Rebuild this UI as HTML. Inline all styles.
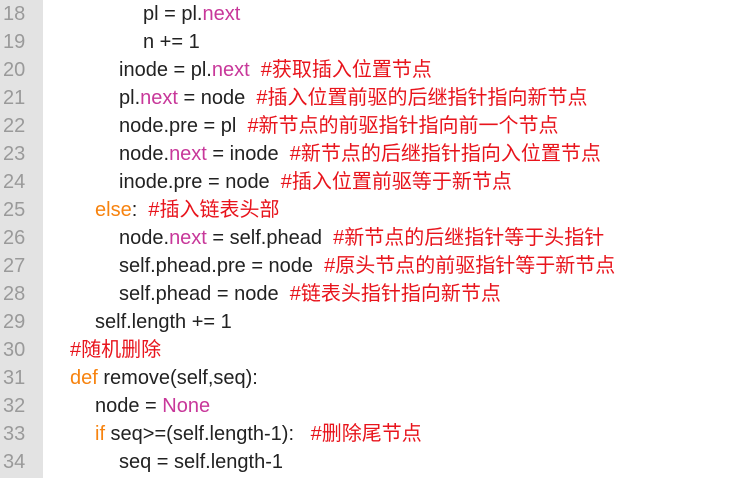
<!DOCTYPE html>
<html><head><meta charset="utf-8"><style>
body{margin:0;width:743px;height:478px;background:#fff;overflow:hidden;position:relative;font-family:"Liberation Sans","Noto Sans CJK SC",sans-serif;font-size:20px;color:#222}
.g{position:absolute;left:0;top:0;width:43px;height:478px;background:#e3e3e3}
.l{position:absolute;height:28px;line-height:28px;white-space:pre}
.n{left:3px;color:#9a9a9a}
.k{color:#f7830f}.p{color:#c8389a}.c{color:#e8141c}
</style></head><body>
<div class="g"></div>
<div class="l n" style="top:0">18</div>
<div class="l n" style="top:28px">19</div>
<div class="l n" style="top:56px">20</div>
<div class="l n" style="top:84px">21</div>
<div class="l n" style="top:112px">22</div>
<div class="l n" style="top:140px">23</div>
<div class="l n" style="top:168px">24</div>
<div class="l n" style="top:196px">25</div>
<div class="l n" style="top:224px">26</div>
<div class="l n" style="top:252px">27</div>
<div class="l n" style="top:280px">28</div>
<div class="l n" style="top:308px">29</div>
<div class="l n" style="top:336px">30</div>
<div class="l n" style="top:364px">31</div>
<div class="l n" style="top:392px">32</div>
<div class="l n" style="top:420px">33</div>
<div class="l n" style="top:448px">34</div>

<div class="l" style="top:0;left:143px">pl = pl.<span class="p">next</span></div>
<div class="l" style="top:28px;left:143px">n += 1</div>
<div class="l" style="top:56px;left:119px">inode = pl.<span class="p">next</span>  <span class="c">#获取插入位置节点</span></div>
<div class="l" style="top:84px;left:119px">pl.<span class="p">next</span> = node  <span class="c">#插入位置前驱的后继指针指向新节点</span></div>
<div class="l" style="top:112px;left:119px">node.pre = pl  <span class="c">#新节点的前驱指针指向前一个节点</span></div>
<div class="l" style="top:140px;left:119px">node.<span class="p">next</span> = inode  <span class="c">#新节点的后继指针指向入位置节点</span></div>
<div class="l" style="top:168px;left:119px">inode.pre = node  <span class="c">#插入位置前驱等于新节点</span></div>
<div class="l" style="top:196px;left:95px"><span class="k">else</span>:  <span class="c">#插入链表头部</span></div>
<div class="l" style="top:224px;left:119px">node.<span class="p">next</span> = self.phead  <span class="c">#新节点的后继指针等于头指针</span></div>
<div class="l" style="top:252px;left:119px">self.phead.pre = node  <span class="c">#原头节点的前驱指针等于新节点</span></div>
<div class="l" style="top:280px;left:119px">self.phead = node  <span class="c">#链表头指针指向新节点</span></div>
<div class="l" style="top:308px;left:95px">self.length += 1</div>
<div class="l" style="top:336px;left:70px"><span class="c">#随机删除</span></div>
<div class="l" style="top:364px;left:70px"><span class="k">def</span> remove(self,seq):</div>
<div class="l" style="top:392px;left:95px">node = <span class="p">None</span></div>
<div class="l" style="top:420px;left:95px"><span class="k">if</span> seq&gt;=(self.length-1):   <span class="c">#删除尾节点</span></div>
<div class="l" style="top:448px;left:119px">seq = self.length-1</div>
</body></html>
